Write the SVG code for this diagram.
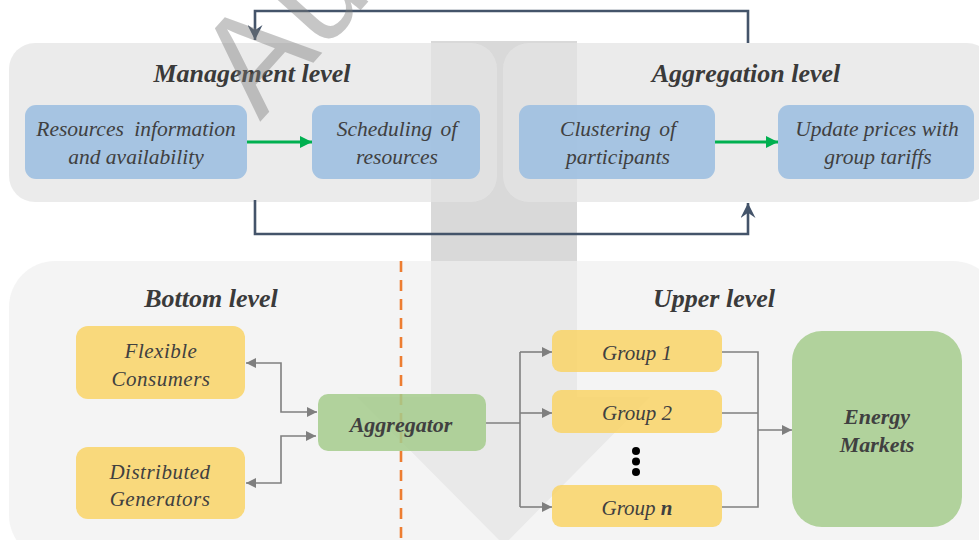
<svg xmlns="http://www.w3.org/2000/svg" width="979" height="540" viewBox="0 0 979 540">
<defs>
<style>
.t{font-style:italic;fill:#404040;text-anchor:middle}
.tt{font-size:26px;font-weight:bold;fill:#3a3a3a}
.bx{font-size:21.5px}
.by{font-size:21px}
.bb{font-size:22px;font-weight:bold}
.blue{fill:#9abde0;opacity:0.85}
.yel{fill:#f9d466;opacity:0.85}
.grn{fill:#a4cb8c;opacity:0.85}
.gc{fill:none;stroke:#7f7f7f;stroke-width:1.6}
.dc{fill:none;stroke:#44546a;stroke-width:2.6}
.gr{fill:none;stroke:#00b050;stroke-width:3}
</style>
<marker id="mg" viewBox="0 0 10 10" refX="10" refY="5" markerWidth="11" markerHeight="10" markerUnits="userSpaceOnUse" orient="auto-start-reverse"><path d="M0,0 L10,5 L0,10 z" fill="#7f7f7f"/></marker>
<marker id="mgr" viewBox="0 0 10 10" refX="10" refY="5" markerWidth="12" markerHeight="14" markerUnits="userSpaceOnUse" orient="auto"><path d="M0,0 L10,5 L0,10 z" fill="#00b050"/></marker>
<marker id="md" viewBox="0 0 10 10" refX="10" refY="5" markerWidth="17" markerHeight="15" markerUnits="userSpaceOnUse" orient="auto"><path d="M0,0 L10,5 L0,10 L3.5,5 z" fill="#44546a"/></marker>
</defs>

<polygon id="bigArrow" points="431,41 577,41 577,397 650,397 504,545 357,397 431,397" fill="#d9d9d9"/>

<g font-family="'Liberation Serif', 'Times New Roman', serif">
<g id="panelManagement"><rect x="9" y="43" width="488" height="159" rx="26" fill="#e4e4e4" opacity="0.74"/>
<text class="t tt" x="252" y="82">Management level</text></g>
<g id="panelAggregation"><rect x="503" y="43" width="490" height="159" rx="26" fill="#e4e4e4" opacity="0.74"/>
<text class="t tt" x="746" y="82">Aggregation level</text></g>
<g id="panelLower"><rect x="9" y="261" width="990" height="300" rx="46" fill="#efefef" opacity="0.71"/></g>

<line x1="401" y1="261" x2="401" y2="540" stroke="#ed7d31" stroke-width="2.6" stroke-dasharray="11,8"/>
<g id="titleBottom"><text class="t tt" x="211" y="307">Bottom level</text></g>
<g id="titleUpper"><text class="t tt" x="714" y="307">Upper level</text></g>

<g id="resources"><rect class="blue" x="25" y="105" width="222" height="74" rx="11"/>
<text class="t bx" x="136" y="136" word-spacing="5">Resources information</text>
<text class="t bx" x="136" y="164">and availability</text></g>
<g id="scheduling"><rect class="blue" x="312" y="105" width="168" height="74" rx="11"/>
<text class="t bx" x="397" y="136" word-spacing="3">Scheduling of</text>
<text class="t bx" x="397" y="164">resources</text></g>
<g id="clustering"><rect class="blue" x="519" y="105" width="196" height="74" rx="11"/>
<text class="t bx" x="618" y="136" word-spacing="3">Clustering of</text>
<text class="t bx" x="618" y="164">participants</text></g>
<g id="update"><rect class="blue" x="778" y="105" width="196" height="74" rx="11"/>
<text class="t bx" x="877" y="136">Update prices with</text>
<text class="t bx" x="878" y="164">group tariffs</text></g>

<g id="flexible"><rect class="yel" x="76" y="326" width="169" height="73" rx="12"/>
<text class="t by" x="161" y="358" letter-spacing="0.5">Flexible</text>
<text class="t by" x="161" y="386" letter-spacing="0.5">Consumers</text></g>
<g id="distributed"><rect class="yel" x="76" y="447" width="169" height="72" rx="12"/>
<text class="t by" x="160" y="479" letter-spacing="0.5">Distributed</text>
<text class="t by" x="160" y="506" letter-spacing="0.5">Generators</text></g>
<g id="aggregator"><rect class="grn" x="318" y="394" width="168" height="57" rx="10"/>
<text class="t bb" x="401" y="432" font-size="22.5">Aggregator</text></g>
<g id="group1"><rect class="yel" x="552" y="330" width="170" height="42" rx="9"/>
<text class="t by" x="637" y="360">Group 1</text></g>
<g id="group2"><rect class="yel" x="552" y="390" width="170" height="43" rx="9"/>
<text class="t by" x="637" y="420">Group 2</text></g>
<g id="groupn"><rect class="yel" x="552" y="485" width="170" height="42" rx="9"/>
<text class="t by" x="637" y="515">Group <tspan font-weight="bold">n</tspan></text></g>
<g id="ellipsis" fill="#000"><circle cx="636" cy="451" r="4"/><circle cx="636" cy="461.5" r="4"/><circle cx="636" cy="472" r="4"/></g>
<g id="markets"><rect class="grn" x="792" y="331" width="170" height="196" rx="30"/>
<text class="t bb" x="877" y="424">Energy</text>
<text class="t bb" x="877" y="452">Markets</text></g>
</g>

<g id="connectors">
<path class="dc" d="M748,43 V11 H255 V40" marker-end="url(#md)"/>
<path class="dc" d="M255,200 V234 H748 V203" marker-end="url(#md)"/>
<path class="gr" d="M247,142 H312" marker-end="url(#mgr)"/>
<path class="gr" d="M715,142 H778" marker-end="url(#mgr)"/>
<path class="gc" d="M246,363 H281 V412 H317" marker-start="url(#mg)" marker-end="url(#mg)"/>
<path class="gc" d="M246,483 H281 V436 H316" marker-start="url(#mg)" marker-end="url(#mg)"/>
<path class="gc" d="M486,423 H520"/>
<path class="gc" d="M520,352 V507"/>
<path class="gc" d="M520,352 H552" marker-end="url(#mg)"/>
<path class="gc" d="M520,413 H552" marker-end="url(#mg)"/>
<path class="gc" d="M520,507 H552" marker-end="url(#mg)"/>
<path class="gc" d="M722,352 H758 V507 H722"/>
<path class="gc" d="M722,413 H758"/>
<path class="gc" d="M758,430 H792" marker-end="url(#mg)"/>
</g>

<text id="watermark" x="260" y="122" transform="rotate(-48 260 122)" font-family="'Liberation Sans', Arial, sans-serif" font-size="140" fill="#7a7a7a" opacity="0.42">Au</text>
</svg>
